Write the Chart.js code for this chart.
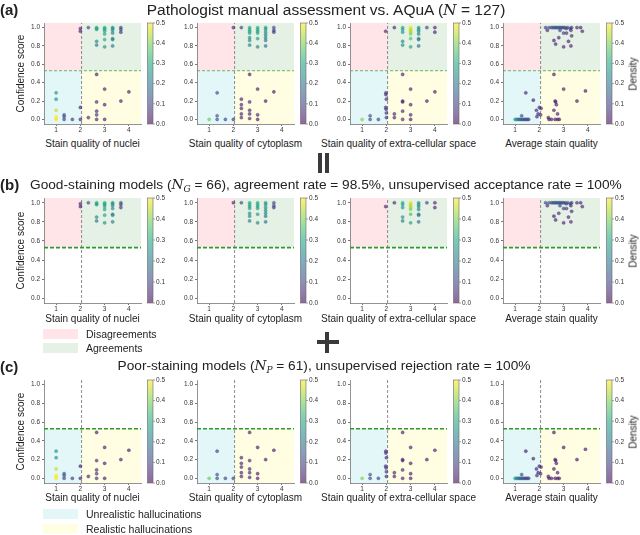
<!DOCTYPE html>
<html>
<head>
<meta charset="utf-8">
<script src="https://cdn.jsdelivr.net/npm/chart.js@4.4.0/dist/chart.umd.min.js"></script>
<style>
  body { margin: 0; background: #fff; }
  #fig { position: relative; width: 640px; height: 535px; overflow: hidden; font-family: 'Liberation Sans', Arial, sans-serif; color: #222; }
  .panel { position: absolute; }
  .txt { position: absolute; white-space: nowrap; }
  .bar { position: absolute; background: #3a3a3a; }
  .swatch { position: absolute; width: 35px; height: 10px; }
  i.m { font-family: 'DejaVu Serif', serif; font-style: italic; }
</style>
</head>
<body>
<div id="fig"></div>
<script>
// x ticks / y ticks / colorbar ticks
const X_TICKS = [1, 2, 3, 4];
const Y_TICKS = [0, 0.2, 0.4, 0.6, 0.8, 1.0];
const CB_TICKS = [0, 0.1, 0.2, 0.3, 0.4, 0.5];
const X_TITLES = ['Stain quality of nuclei', 'Stain quality of cytoplasm', 'Stain quality of extra-cellular space', 'Average stain quality'];
const THRESH_X = 2.05;
const THRESH_Y = 0.53;

// points: [stain quality, confidence score, density]
const nucleiGood = [[2,0.99,0.05],[2,0.96,0.05],[2.33,1.0,0.1],[2.67,1.0,0.3],[2.67,0.99,0.3],[2.67,0.98,0.28],[2.67,0.85,0.22],[2.67,0.81,0.2],
  [3,1.0,0.32],[3,0.99,0.32],[3,0.98,0.3],[3,0.96,0.3],[3,0.93,0.28],[3,0.87,0.3],[3,0.79,0.25],
  [3.33,1.0,0.25],[3.33,0.99,0.25],[3.33,0.97,0.24],[3.33,0.94,0.22],[3.33,0.88,0.22],[3.33,0.87,0.22],[3.33,0.80,0.2],
  [3.67,1.0,0.1],[3.67,0.98,0.1],[3.67,0.95,0.08]];
const nucleiPoor = [[1,0.29,0.25],[1,0.22,0.25],[1,0.10,0.45],[1,0.03,0.5],[1,0.01,0.5],[1,0.0,0.5],[1.33,0.05,0.12],[1.33,0.03,0.12],[1.33,0.0,0.1],
  [1.67,0.0,0.08],[2,0.13,0.05],[2,0.0,0.05],[2.33,0.02,0.05],[2.67,0.49,0.04],[2.67,0.19,0.06],[2.67,0.09,0.06],[2.67,0.05,0.06],[2.67,0.0,0.06],
  [3,0.33,0.04],[3,0.16,0.04],[3,0.0,0.04],[3.67,0.2,0.04],[4,0.3,0.03]];

const cytoGood = [[2,1.0,0.05],[2.33,1.0,0.1],[2.67,1.0,0.3],[2.67,0.98,0.3],[2.67,0.96,0.28],[2.67,0.94,0.28],[2.67,0.89,0.25],[2.67,0.86,0.25],[2.67,0.81,0.22],
  [3,1.0,0.3],[3,0.98,0.3],[3,0.96,0.28],[3,0.94,0.28],[3,0.88,0.26],[3,0.79,0.22],
  [3.33,1.0,0.25],[3.33,0.98,0.25],[3.33,0.95,0.24],[3.33,0.92,0.22],[3.33,0.89,0.22],[3.33,0.86,0.2],[3.33,0.80,0.18],
  [3.67,1.0,0.1],[3.67,0.97,0.1],[3.67,0.95,0.08]];
const cytoPoor = [[1,0.0,0.38],[1.33,0.29,0.1],[1.33,0.04,0.12],[1.33,0.0,0.12],[1.67,0.0,0.1],[2,0.0,0.08],
  [2.33,0.22,0.05],[2.33,0.16,0.05],[2.33,0.12,0.05],[2.33,0.06,0.05],[2.33,0.02,0.05],
  [2.67,0.49,0.04],[2.67,0.19,0.05],[2.67,0.10,0.05],[2.67,0.06,0.05],[2.67,0.01,0.05],
  [3,0.33,0.04],[3,0.05,0.04],[3,0.0,0.04],[3.33,0.2,0.03],[3.67,0.3,0.03]];

const ecsGood = [[1.97,0.96,0.05],[2.33,1.0,0.05],[2.67,1.0,0.3],[2.67,0.98,0.28],[2.67,0.95,0.26],[2.67,0.85,0.24],[2.67,0.81,0.22],
  [3,1.0,0.48],[3,0.99,0.48],[3,0.98,0.46],[3,0.97,0.45],[3,0.95,0.42],[3,0.93,0.4],[3,0.88,0.35],[3,0.79,0.28],
  [3.33,1.0,0.25],[3.33,0.98,0.25],[3.33,0.96,0.24],[3.33,0.93,0.22],[3.33,0.88,0.22],[3.33,0.87,0.2],[3.33,0.80,0.18],
  [3.67,1.0,0.1],[4,1.0,0.05],[4,0.95,0.05]];
const ecsPoor = [[1,0.0,0.4],[1.33,0.04,0.12],[1.33,0.0,0.12],[1.67,0.0,0.1],[1.98,0.29,0.06],[1.98,0.27,0.06],[2.0,0.22,0.06],[1.97,0.13,0.07],
  [1.99,0.11,0.07],[2.0,0.07,0.07],[2.0,0.02,0.07],[2.33,0.06,0.05],[2.33,0.02,0.05],
  [2.67,0.49,0.04],[2.67,0.2,0.05],[2.67,0.19,0.05],[2.67,0.09,0.05],[2.67,0.0,0.05],
  [3,0.33,0.04],[3,0.16,0.04],[3,0.05,0.04],[3,0.0,0.04],[3.67,0.2,0.03],[4,0.3,0.03]];

const avgGood = [[2.26,1.0,0.08],[2.33,0.97,0.06],[2.4,1.0,0.1],[2.5,1.0,0.12],[2.56,1.0,0.12],[2.62,1.0,0.13],[2.67,1.0,0.13],[2.72,1.0,0.13],
  [2.78,1.0,0.13],[2.83,1.0,0.13],[2.89,1.0,0.12],[2.94,1.0,0.12],[3.0,1.0,0.12],[3.06,1.0,0.11],[3.11,0.99,0.1],[3.17,1.0,0.1],
  [3.28,0.99,0.08],[3.33,1.0,0.08],[3.55,1.0,0.06],[3.7,1.0,0.05],[3.77,0.96,0.05],[3.3,0.97,0.07],[3.12,0.94,0.07],[3.0,0.94,0.08],
  [2.85,0.97,0.1],[3.33,0.91,0.06],[2.8,0.89,0.06],[2.6,0.86,0.05],[2.67,0.82,0.05],[3.0,0.79,0.05],[3.3,0.80,0.05],[3.2,0.85,0.05]];
const avgPoor = [[1.0,0.0,0.28],[1.05,0.0,0.26],[1.11,0.0,0.2],[1.17,0.0,0.17],[1.22,0.0,0.15],[1.28,0.0,0.14],[1.33,0.0,0.13],[1.39,0.0,0.12],
  [1.44,0.0,0.11],[1.5,0.0,0.1],[1.56,0.0,0.09],[1.27,0.04,0.1],[1.44,0.29,0.04],[1.75,0.21,0.04],[1.88,0.10,0.05],[1.9,0.03,0.05],
  [1.95,0.06,0.05],[2.0,0.13,0.05],[2.07,0.12,0.05],[2.05,0.05,0.05],[2.37,0.02,0.04],[2.4,0.0,0.04],[2.5,0.0,0.04],
  [2.6,0.49,0.03],[2.65,0.2,0.04],[2.67,0.19,0.04],[2.6,0.1,0.04],[2.75,0.06,0.04],[2.7,0.16,0.04],[2.65,0.0,0.04],[2.75,0.0,0.04],[2.82,0.0,0.04],
  [3.0,0.33,0.03],[3.55,0.2,0.03],[3.9,0.31,0.03]];

const GOOD = [nucleiGood, cytoGood, ecsGood, avgGood];
const POOR = [nucleiPoor, cytoPoor, ecsPoor, avgPoor];

// layout
const COL_LEFT = [44, 197, 350, 503];
const PLOT_W = 97;
const ROW_TOP = [23, 198, 380];
const ROW_H = [101, 105, 103];
const X_TITLE_OFF = [18.5, 14.5, 14];
const PAD_TOP = 6;
const X_H = 12;
const CB_W = 30;

const VIRIDIS = [[68,1,84],[72,36,117],[65,68,135],[53,95,141],[42,120,142],[33,145,140],[34,168,132],[68,191,112],[122,209,81],[189,223,38],[253,231,37]];
function viridis(t, a) {
  t = Math.max(0, Math.min(1, t));
  const f = t * 10, i = Math.min(9, Math.floor(f)), r = f - i;
  const c0 = VIRIDIS[i], c1 = VIRIDIS[i + 1];
  const c = c0.map((v, k) => Math.round(v + (c1[k] - v) * r));
  return `rgba(${c[0]},${c[1]},${c[2]},${a})`;
}

const Q_COLORS = {
  pink: 'rgba(255,40,60,0.12)',
  green: 'rgba(40,140,40,0.12)',
  cyan: 'rgba(60,200,210,0.14)',
  yellow: 'rgba(255,250,60,0.15)',
};

const quadrants = {
  id: 'quadrants',
  beforeDraw(chart, args, opts) {
    const { ctx, chartArea: a, scales: { x, y } } = chart;
    const xm = x.getPixelForValue(THRESH_X), ym = y.getPixelForValue(THRESH_Y);
    ctx.save();
    if (opts.row !== 2) {
      ctx.fillStyle = Q_COLORS.pink; ctx.fillRect(a.left, a.top, xm - a.left, ym - a.top);
      ctx.fillStyle = Q_COLORS.green; ctx.fillRect(xm, a.top, a.right - xm, ym - a.top);
    }
    if (opts.row !== 1) {
      ctx.fillStyle = Q_COLORS.cyan; ctx.fillRect(a.left, ym, xm - a.left, a.bottom - ym);
      ctx.fillStyle = Q_COLORS.yellow; ctx.fillRect(xm, ym, a.right - xm, a.bottom - ym);
    }
    ctx.restore();
  },
  beforeDatasetsDraw(chart, args, opts) {
    const { ctx, chartArea: a, scales: { x, y } } = chart;
    const xm = x.getPixelForValue(THRESH_X), ym = y.getPixelForValue(THRESH_Y);
    ctx.save();
    ctx.strokeStyle = '#8a8a8a'; ctx.lineWidth = 1; ctx.setLineDash([3, 2]);
    ctx.beginPath(); ctx.moveTo(xm, a.bottom); ctx.lineTo(xm, a.top); ctx.stroke();
    if (opts.row === 0) {
      ctx.strokeStyle = 'rgba(60,160,60,0.75)'; ctx.lineWidth = 1; ctx.setLineDash([3, 2]);
    } else {
      ctx.strokeStyle = '#2e9a2e'; ctx.lineWidth = 1.6; ctx.setLineDash([4, 2]);
    }
    ctx.beginPath(); ctx.moveTo(a.left, ym); ctx.lineTo(a.right, ym); ctx.stroke();
    ctx.restore();
  },
  afterDraw(chart) {
    const { ctx, chartArea: a, scales: { cb } } = chart;
    const x0 = a.right + 6.5, w = 5.5;
    const top = cb.getPixelForValue(0.5), bot = cb.getPixelForValue(0);
    const g = ctx.createLinearGradient(0, bot, 0, top);
    for (let i = 0; i <= 10; i++) g.addColorStop(i / 10, viridis(i / 10, 0.6));
    ctx.save();
    ctx.fillStyle = g; ctx.fillRect(x0, top, w, bot - top);
    ctx.strokeStyle = '#666'; ctx.lineWidth = 0.6; ctx.strokeRect(x0, top, w, bot - top);
    ctx.beginPath();
    CB_TICKS.forEach(v => { const yy = cb.getPixelForValue(v); ctx.moveTo(x0 + w, yy); ctx.lineTo(x0 + w + 2, yy); });
    ctx.stroke();
    ctx.restore();
  }
};

const fig = document.getElementById('fig');
const tickFont = { family: "'Liberation Sans', Arial, sans-serif", size: 6.5 };
const labelFont = { family: "'Liberation Sans', Arial, sans-serif", size: 10 };

function addText(html, x, y, css, center) {
  const d = document.createElement('div');
  d.className = 'txt';
  d.innerHTML = html;
  d.style.cssText += css;
  d.style.left = x + 'px';
  d.style.top = y + 'px';
  d.style.transform = center ? 'translate(-50%,-50%)' : 'translate(0,-50%)';
  fig.appendChild(d);
  return d;
}

function makePanel(r, c) {
  const left = c === 0 ? 0 : COL_LEFT[c] - 26;
  const yW = COL_LEFT[c] - left;
  const div = document.createElement('div');
  div.className = 'panel';
  div.style.left = left + 'px';
  div.style.top = (ROW_TOP[r] - PAD_TOP) + 'px';
  div.style.width = (yW + PLOT_W + CB_W) + 'px';
  div.style.height = (PAD_TOP + ROW_H[r] + X_H) + 'px';
  const canvas = document.createElement('canvas');
  div.appendChild(canvas);
  fig.appendChild(div);

  const pts = r === 0 ? GOOD[c].concat(POOR[c]) : (r === 1 ? GOOD[c] : POOR[c]);
  new Chart(canvas, {
    type: 'scatter',
    data: {
      datasets: [{
        data: pts.map(p => ({ x: p[0], y: p[1] })),
        backgroundColor: pts.map(p => viridis(p[2] / 0.5, 0.65)),
        borderColor: pts.map(p => viridis(p[2] / 0.5, 0.8)),
        borderWidth: 0.4,
        pointRadius: 1.6,
      }],
    },
    options: {
      responsive: true,
      maintainAspectRatio: false,
      animation: false,
      layout: { padding: { top: PAD_TOP, left: 0, right: 0, bottom: 0 } },
      plugins: { legend: { display: false }, tooltip: { enabled: false }, quadrants: { row: r } },
      scales: {
        x: {
          type: 'linear', min: 0.5, max: 4.5,
          afterBuildTicks: s => { s.ticks = X_TICKS.map(v => ({ value: v })); },
          ticks: { font: tickFont, color: '#333', padding: 0, maxRotation: 0, callback: v => String(v) },
          grid: { drawOnChartArea: false, tickLength: 2, color: '#777' },
          border: { color: '#777', width: 0.8 },
          afterFit: s => { s.height = X_H; },
        },
        y: {
          type: 'linear', min: -0.05, max: 1.05,
          afterBuildTicks: s => { s.ticks = Y_TICKS.map(v => ({ value: v })); },
          ticks: { font: tickFont, color: '#333', padding: 2, callback: v => v.toFixed(1) },
          grid: { drawOnChartArea: false, tickLength: 2, color: '#777' },
          border: { color: '#777', width: 0.8 },
          title: { display: c === 0, text: 'Confidence score', font: labelFont, color: '#222', padding: { top: 15, bottom: 0 } },
          afterFit: s => { s.width = yW; },
        },
        cb: {
          type: 'linear', position: 'right', min: 0, max: 0.5,
          afterBuildTicks: s => { s.ticks = CB_TICKS.map(v => ({ value: v })); },
          ticks: { font: tickFont, color: '#333', padding: 0, callback: v => v.toFixed(1) },
          grid: { display: true, drawOnChartArea: false, tickLength: 15, tickColor: 'rgba(0,0,0,0)' },
          border: { display: false },
          afterFit: s => { s.width = CB_W; },
        },
      },
    },
    plugins: [quadrants],
  });

  addText(X_TITLES[c], COL_LEFT[c] + PLOT_W / 2, ROW_TOP[r] + ROW_H[r] + X_TITLE_OFF[r], 'font-size:10px;', true);

  if (c === 3) {
    const d = addText('Density', 633, ROW_TOP[r] + ROW_H[r] / 2, 'font-size:10px;', true);
    d.style.transform = 'translate(-50%,-50%) rotate(-90deg)';
  }
}

for (let r = 0; r < 3; r++) for (let c = 0; c < 4; c++) makePanel(r, c);

addText('(a)', 0, 9, 'font-size:15px;font-weight:bold;', false);
addText('Pathologist manual assessment vs. AQuA (<i class="m">N</i> = 127)', 326, 10, 'font-size:15.5px;', true);
addText('(b)', 0, 184, 'font-size:15px;font-weight:bold;', false);
addText('Good-staining models (<i class="m">N<sub style="font-size:9px">G</sub></i> = 66), agreement rate = 98.5%, unsupervised acceptance rate = 100%', 30, 185, 'font-size:13.7px;', false);
addText('(c)', 0, 366, 'font-size:15px;font-weight:bold;', false);
addText('Poor-staining models (<i class="m">N<sub style="font-size:9px">P</sub></i> = 61), unsupervised rejection rate = 100%', 324, 366, 'font-size:13.7px;', true);

// legends
const legends = [
  [Q_COLORS.pink, 'Disagreements', 329],
  [Q_COLORS.green, 'Agreements', 343],
  [Q_COLORS.cyan, 'Unrealistic hallucinations', 509],
  [Q_COLORS.yellow, 'Realistic hallucinations', 524],
];
legends.forEach(([col, label, y]) => {
  const s = document.createElement('div');
  s.className = 'swatch';
  s.style.left = '43px'; s.style.top = y + 'px'; s.style.background = col;
  fig.appendChild(s);
  addText(label, 86, y + 5, 'font-size:10.5px;', false);
});

// "=" rotated and "+" symbols between rows
[[318, 153, 4.3, 20], [324.7, 153, 4.3, 20], [317, 339.5, 21.5, 4.5], [324.5, 331.5, 4.5, 21]].forEach(([x, y, w, h]) => {
  const b = document.createElement('div');
  b.className = 'bar';
  b.style.left = x + 'px'; b.style.top = y + 'px'; b.style.width = w + 'px'; b.style.height = h + 'px';
  fig.appendChild(b);
});
</script>
</body>
</html>
